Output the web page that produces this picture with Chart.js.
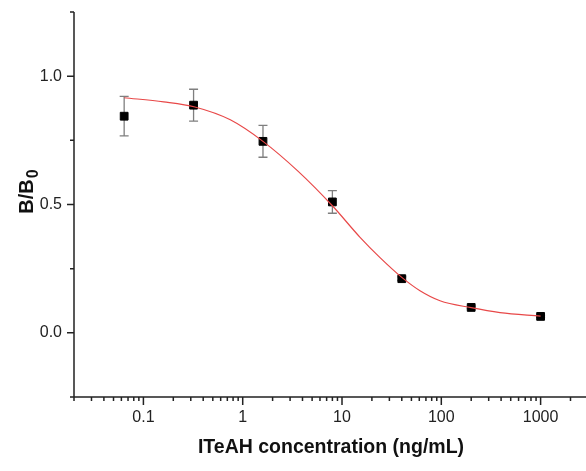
<!DOCTYPE html>
<html>
<head>
<meta charset="utf-8">
<script src="https://cdn.jsdelivr.net/npm/chart.js@4.4.1/dist/chart.umd.min.js"></script>
<style>
  html, body { margin: 0; padding: 0; background: #fff; }
  #wrap { width: 586px; height: 471px; }
</style>
</head>
<body>
<div id="wrap"><canvas id="c" width="586" height="471"></canvas></div>
<script>
// ---- data ----
const concentrations = [0.064, 0.32, 1.6, 8, 40, 200, 1000];          // ng/mL
const bOverB0       = [0.844, 0.887, 0.746, 0.510, 0.211, 0.099, 0.064];
const errorSD       = [0.077, 0.062, 0.062, 0.044, 0.007, 0.005, 0.004];

// fitted curve
const fitX = [0.064, 0.16, 0.33, 0.75, 1.6, 3.6, 8, 15.2, 24, 40, 61, 97, 200, 390, 1000];
const fitY = [0.916, 0.900, 0.880, 0.830, 0.746, 0.630, 0.495, 0.372, 0.294, 0.216, 0.164, 0.125, 0.098, 0.079, 0.065];

const xTickLabels = [0.1, 1, 10, 100, 1000];
const yTickLabels = [0.0, 0.5, 1.0];
const yMinorTicks = [-0.25, 0.25, 0.75, 1.25];
const xRange = [0.02, 2865];
const yRange = [-0.25, 1.25];

const FONT = '"Liberation Sans", Arial, Helvetica, sans-serif';
const AXIS_COLOR = '#222';

function xMinorTicks() {
  const out = [];
  for (let e = -2; e <= 3; e++) {
    for (let m = 2; m <= 9; m++) {
      const v = m * Math.pow(10, e);
      if (v >= xRange[0] * 0.999 && v <= xRange[1]) out.push(v);
    }
  }
  return out;
}

function noPad(s) {
  s.paddingTop = 0; s.paddingBottom = 0; s.paddingLeft = 0; s.paddingRight = 0;
}

const axesPlugin = {
  id: 'axesPlugin',
  beforeDatasetsDraw(chart) {
    // error bars
    const ctx = chart.ctx, xs = chart.scales.x, ys = chart.scales.y;
    ctx.save();
    ctx.strokeStyle = '#7f7f7f';
    ctx.lineWidth = 1.3;
    concentrations.forEach((c, i) => {
      const px = xs.getPixelForValue(c);
      const top = ys.getPixelForValue(bOverB0[i] + errorSD[i]);
      const bot = ys.getPixelForValue(bOverB0[i] - errorSD[i]);
      ctx.beginPath();
      ctx.moveTo(px, top); ctx.lineTo(px, bot);
      ctx.moveTo(px - 4.5, top); ctx.lineTo(px + 4.5, top);
      ctx.moveTo(px - 4.5, bot); ctx.lineTo(px + 4.5, bot);
      ctx.stroke();
    });
    ctx.restore();
  },
  afterDraw(chart) {
    const ctx = chart.ctx, xs = chart.scales.x, ys = chart.scales.y;
    const a = chart.chartArea;
    ctx.save();
    ctx.strokeStyle = AXIS_COLOR;
    ctx.lineWidth = 1.5;
    ctx.beginPath();
    // axis lines
    ctx.moveTo(a.left, a.top); ctx.lineTo(a.left, a.bottom);
    ctx.moveTo(a.left - 0.75, a.bottom); ctx.lineTo(a.right, a.bottom);
    // y ticks
    yTickLabels.forEach(v => { const py = ys.getPixelForValue(v); ctx.moveTo(a.left, py); ctx.lineTo(a.left - 7, py); });
    yMinorTicks.forEach(v => { const py = ys.getPixelForValue(v); ctx.moveTo(a.left, py); ctx.lineTo(a.left - 4, py); });
    // x ticks
    xTickLabels.forEach(v => { const px = xs.getPixelForValue(v); ctx.moveTo(px, a.bottom); ctx.lineTo(px, a.bottom + 8); });
    xMinorTicks().forEach(v => { const px = xs.getPixelForValue(v); ctx.moveTo(px, a.bottom); ctx.lineTo(px, a.bottom + 4); });
    ctx.stroke();

    // x title
    ctx.fillStyle = '#111';
    ctx.font = 'bold 19.5px ' + FONT;
    ctx.textAlign = 'center';
    ctx.textBaseline = 'middle';
    ctx.fillText('ITeAH concentration (ng/mL)', (a.left + a.right) / 2 + 1, 448);

    // y title B/B0 with subscript
    ctx.translate(33, 192);
    ctx.rotate(-Math.PI / 2);
    ctx.textAlign = 'left';
    ctx.textBaseline = 'alphabetic';
    ctx.font = 'bold 20px ' + FONT;
    const main = 'B/B';
    const w1 = ctx.measureText(main).width;
    ctx.font = 'bold 16px ' + FONT;
    const w2 = ctx.measureText('0').width;
    const start = -(w1 + w2) / 2;
    ctx.font = 'bold 20px ' + FONT;
    ctx.fillText(main, start, 0);
    ctx.font = 'bold 16px ' + FONT;
    ctx.fillText('0', start + w1 + 1, 5);
    ctx.restore();
  }
};

new Chart(document.getElementById('c'), {
  type: 'scatter',
  data: {
    datasets: [
      {
        label: 'fit',
        type: 'line',
        data: fitX.map((x, i) => ({ x, y: fitY[i] })),
        borderColor: 'rgb(232,72,72)',
        borderWidth: 1.2,
        pointRadius: 0,
        fill: false,
        cubicInterpolationMode: 'monotone'
      },
      {
        label: 'B/B0',
        data: concentrations.map((x, i) => ({ x, y: bOverB0[i] })),
        backgroundColor: '#000',
        borderColor: '#000',
        borderWidth: 1,
        pointStyle: 'rect',
        pointRadius: 5.5,
        pointHoverRadius: 5.5
      }
    ]
  },
  options: {
    responsive: false,
    animation: false,
    events: [],
    layout: { autoPadding: false, padding: { top: 12, right: 0, left: 0, bottom: 0 } },
    plugins: { legend: { display: false }, tooltip: { enabled: false } },
    scales: {
      x: {
        type: 'logarithmic',
        min: xRange[0],
        max: xRange[1],
        grid: { display: false, drawTicks: false },
        border: { display: false },
        afterBuildTicks: s => { s.ticks = xTickLabels.map(v => ({ value: v })); },
        afterFit: s => { s.height = 74; noPad(s); },
        ticks: {
          padding: 11,
          autoSkip: false,
          maxRotation: 0,
          color: '#222',
          font: { family: FONT, size: 16 },
          callback: v => String(v)
        }
      },
      y: {
        type: 'linear',
        min: yRange[0],
        max: yRange[1],
        grid: { display: false, drawTicks: false },
        border: { display: false },
        afterBuildTicks: s => { s.ticks = yTickLabels.map(v => ({ value: v })); },
        afterFit: s => { s.width = 74; noPad(s); },
        ticks: {
          padding: 12,
          color: '#222',
          font: { family: FONT, size: 16 },
          callback: v => Number(v).toFixed(1)
        }
      }
    }
  },
  plugins: [axesPlugin]
});
</script>
</body>
</html>
